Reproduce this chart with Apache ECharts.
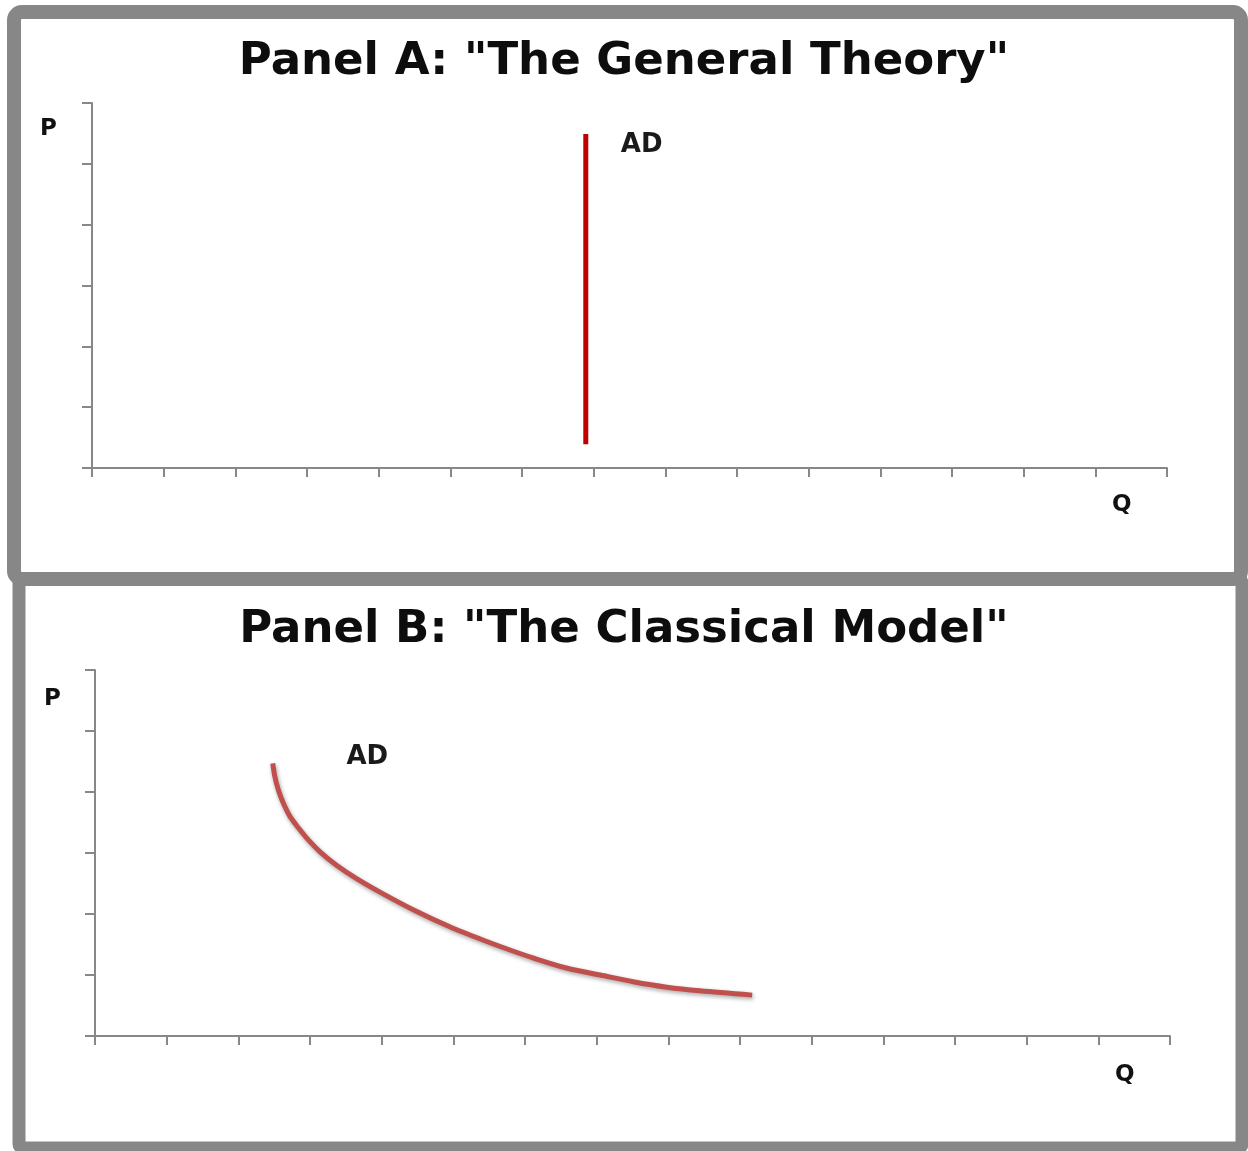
<!DOCTYPE html>
<html>
<head>
<meta charset="utf-8">
<script src="https://cdn.jsdelivr.net/npm/echarts@6/dist/echarts.min.js"></script>
<style>
  html, body { margin: 0; padding: 0; background: #fff; }
  #main { width: 1248px; height: 1151px; }
</style>
</head>
<body>
<div id="main"></div>
<script>
// panel A: vertical AD (Keynes)
var adA = [[6.89, 0.39], [6.89, 5.49]];
var adALabel = [[7.67, 5.31]];
// panel B: downward sloping AD (classical)
var adB = [
	[2.48, 4.47], [2.51, 4.25], [2.56, 4.03], [2.63, 3.81], [2.72, 3.60],
	[2.84, 3.41], [2.98, 3.21], [3.14, 3.02], [3.37, 2.80], [3.65, 2.58],
	[4.02, 2.33], [4.49, 2.04], [4.95, 1.79], [5.42, 1.57], [5.79, 1.41],
	[6.11, 1.28], [6.59, 1.11], [7.05, 1.00], [7.51, 0.89], [7.98, 0.80],
	[8.44, 0.74], [9.17, 0.67]
];
var adBLabel = [[3.80, 4.57]];
var titles = ['Panel A: "The General Theory"', 'Panel B: "The Classical Model"'];

var myChart = echarts.init(document.getElementById('main'));

var axisGray = '#878787';
function xAx(i) {
	return {
		type: 'value', gridIndex: i, min: 0, max: 15, interval: 1,
		axisLine: { show: true, lineStyle: { color: axisGray, width: 2 } },
		axisTick: { show: true, length: 9, lineStyle: { color: axisGray, width: 2 } },
		axisLabel: { show: false },
		splitLine: { show: false }
	};
}
function yAx(i) {
	return {
		type: 'value', gridIndex: i, min: 0, max: 6, interval: 1,
		axisLine: { show: true, lineStyle: { color: axisGray, width: 2 } },
		axisTick: { show: true, length: 10, lineStyle: { color: axisGray, width: 2 } },
		axisLabel: { show: false },
		splitLine: { show: false }
	};
}
var adText = {
	show: true, position: 'inside', formatter: 'AD',
	fontFamily: 'DejaVu Sans', fontWeight: 'bold', fontSize: 26, color: '#1a1a1a'
};
var pqStyle = { fontFamily: 'DejaVu Sans', fontWeight: 'bold', fontSize: 23, fill: '#111', textAlign: 'center', textVerticalAlign: 'middle' };
var titleStyle = { fontFamily: 'DejaVu Sans', fontWeight: 'bold', fontSize: 45, color: '#0d0d0d' };

var option = {
	animation: false,
	backgroundColor: '#fff',
	title: [
		{ text: titles[0], left: 'center', top: 40, padding: 0, textStyle: titleStyle },
		{ text: titles[1], left: 'center', top: 608, padding: 0, textStyle: titleStyle }
	],
	grid: [
		{ left: 92, top: 103, width: 1075, height: 365 },
		{ left: 95, top: 670, width: 1075, height: 366 }
	],
	xAxis: [xAx(0), xAx(1)],
	yAxis: [yAx(0), yAx(1)],
	graphic: [
		{ type: 'rect', z: 100, shape: { x: 19, y: 579, width: 1223, height: 569, r: 4 },
			style: { fill: 'none', stroke: '#878787', lineWidth: 13 } },
		{ type: 'rect', z: 101, shape: { x: 14, y: 12, width: 1227, height: 567, r: 8 },
			style: { fill: 'none', stroke: '#878787', lineWidth: 14 } },
		{ type: 'text', left: 40, top: 118, style: Object.assign({ text: 'P' }, pqStyle) },
		{ type: 'text', left: 1112, top: 494, style: Object.assign({ text: 'Q' }, pqStyle) },
		{ type: 'text', left: 44, top: 688, style: Object.assign({ text: 'P' }, pqStyle) },
		{ type: 'text', left: 1115, top: 1064, style: Object.assign({ text: 'Q' }, pqStyle) }
	],
	series: [{
		name: 'AD', type: 'line', xAxisIndex: 0, yAxisIndex: 0,
		data: adA, symbol: 'none',
		lineStyle: { color: '#c00000', width: 5, cap: 'butt' }
	}, {
		type: 'scatter', xAxisIndex: 0, yAxisIndex: 0,
		data: adALabel, symbolSize: 1, itemStyle: { color: 'rgba(0,0,0,0)', opacity: 1 },
		label: adText, silent: true
	}, {
		name: 'AD', type: 'line', xAxisIndex: 1, yAxisIndex: 1,
		data: adB, symbol: 'none', smooth: 0.3,
		lineStyle: { color: '#c0504d', width: 5, shadowBlur: 4, shadowColor: 'rgba(0,0,0,0.35)', shadowOffsetY: 2, shadowOffsetX: 1 }
	}, {
		type: 'scatter', xAxisIndex: 1, yAxisIndex: 1,
		data: adBLabel, symbolSize: 1, itemStyle: { color: 'rgba(0,0,0,0)', opacity: 1 },
		label: adText, silent: true
	}]
};

myChart.setOption(option);
</script>
</body>
</html>
